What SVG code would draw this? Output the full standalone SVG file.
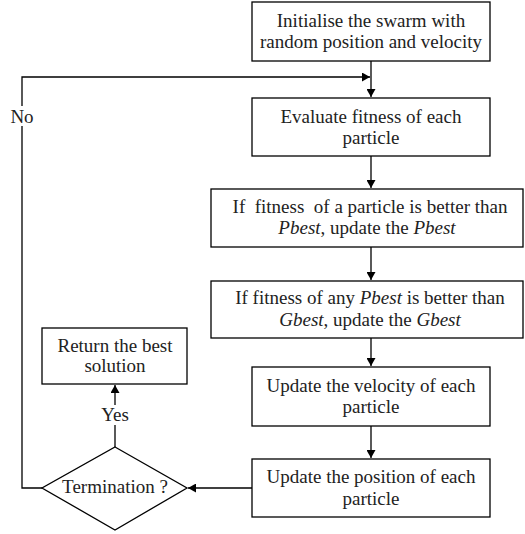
<svg xmlns="http://www.w3.org/2000/svg" width="525" height="534" viewBox="0 0 525 534">
  <style>
    .box { fill: #ffffff; stroke: #000000; stroke-width: 1.3; }
    .line { fill: none; stroke: #000000; stroke-width: 1.3; }
    text { font-size: 19px; fill: #222222; text-anchor: middle; }
    .it { font-style: italic; }
  </style>
  <defs>
    <marker id="arrow" viewBox="0 0 8 9" refX="8" refY="4.5" markerWidth="8" markerHeight="9" markerUnits="userSpaceOnUse" orient="auto">
      <path d="M0,0 L8,4.5 L0,9 z" fill="#000000"/>
    </marker>
  </defs>
  <rect width="525" height="534" fill="#ffffff"/>

  <g id="connectors">
    <line class="line" x1="371" y1="61" x2="371" y2="97" marker-end="url(#arrow)"/>
    <line class="line" x1="371" y1="156" x2="371" y2="188" marker-end="url(#arrow)"/>
    <line class="line" x1="371" y1="247" x2="371" y2="280" marker-end="url(#arrow)"/>
    <line class="line" x1="371" y1="338" x2="371" y2="366" marker-end="url(#arrow)"/>
    <line class="line" x1="371" y1="426" x2="371" y2="458" marker-end="url(#arrow)"/>
    <line class="line" x1="252" y1="488" x2="188" y2="488" marker-end="url(#arrow)"/>
    <line class="line" x1="115" y1="447" x2="115" y2="385" marker-end="url(#arrow)"/>
    <polyline class="line" points="42,488 22,488 22,77 370,77" marker-end="url(#arrow)"/>
  </g>

  <g font-family="Liberation Serif, DejaVu Serif, serif">
  <g id="init">
    <rect class="box" x="252" y="2" width="238" height="59"/>
    <text x="371" y="27">Initialise the swarm with</text>
    <text x="371" y="48">random position and velocity</text>
  </g>

  <g id="evaluate">
    <rect class="box" x="252" y="98" width="238" height="58"/>
    <text x="371" y="123">Evaluate fitness of each</text>
    <text x="371" y="144">particle</text>
  </g>

  <g id="pbest">
    <rect class="box" x="211" y="189" width="312" height="58"/>
    <text x="370" y="213" xml:space="preserve">If  fitness  of a particle is better than</text>
    <text x="367" y="234"><tspan class="it">Pbest</tspan>, update the <tspan class="it">Pbest</tspan></text>
  </g>

  <g id="gbest">
    <rect class="box" x="211" y="281" width="312" height="57"/>
    <text x="370" y="304">If fitness of any <tspan class="it">Pbest</tspan> is better than</text>
    <text x="370" y="326"><tspan class="it">Gbest</tspan>, update the <tspan class="it">Gbest</tspan></text>
  </g>

  <g id="velocity">
    <rect class="box" x="252" y="367" width="238" height="59"/>
    <text x="371" y="392">Update the velocity of each</text>
    <text x="371" y="413">particle</text>
  </g>

  <g id="position">
    <rect class="box" x="252" y="459" width="238" height="58"/>
    <text x="371" y="483">Update the position of each</text>
    <text x="371" y="505">particle</text>
  </g>

  <g id="termination">
    <polygon class="box" points="115,447 187,488 115,530 42,488"/>
    <text x="115" y="493">Termination ?</text>
  </g>

  <g id="result">
    <rect class="box" x="42" y="328" width="145" height="56"/>
    <text x="115" y="352">Return the best</text>
    <text x="115" y="372">solution</text>
  </g>

  <g id="labels">
    <rect x="9" y="106" width="26" height="20" fill="#ffffff"/>
    <text x="22" y="123">No</text>
    <rect x="98" y="405" width="34" height="20" fill="#ffffff"/>
    <text x="115" y="421">Yes</text>
  </g>
  </g>
</svg>
